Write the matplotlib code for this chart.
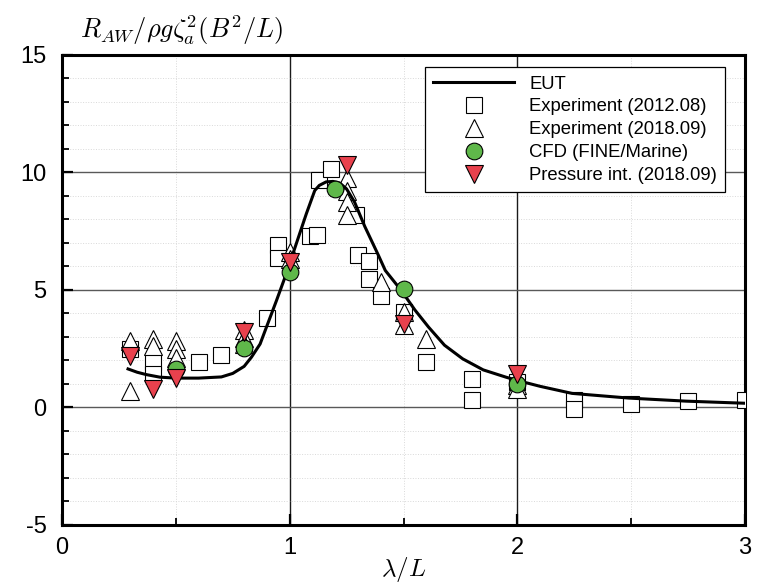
import numpy as np
import matplotlib
matplotlib.use("Agg")
import matplotlib.pyplot as plt
from matplotlib.ticker import MultipleLocator

plt.rcParams['font.family'] = ['Liberation Sans', 'DejaVu Sans']
plt.rcParams['mathtext.fontset'] = 'cm'
plt.rcParams['axes.unicode_minus'] = False

# EUT (theory curve)
eut_x = [0.29, 0.33, 0.37, 0.43, 0.50, 0.60, 0.70, 0.75, 0.80, 0.832, 0.87, 0.898,
         0.942, 0.985, 1.029, 1.073, 1.11, 1.13, 1.16, 1.19, 1.22, 1.25, 1.285,
         1.33, 1.39, 1.42, 1.49, 1.55, 1.61, 1.68, 1.76, 1.85, 1.95, 2.0, 2.1,
         2.24, 2.49, 2.74, 3.0]
eut_y = [1.64, 1.50, 1.40, 1.29, 1.25, 1.25, 1.30, 1.45, 1.75, 2.14, 2.70, 3.42,
         4.55, 5.69, 6.97, 8.24, 9.23, 9.45, 9.60, 9.62, 9.55, 9.30, 8.74,
         7.70, 6.47, 5.83, 4.98, 4.15, 3.42, 2.65, 2.07, 1.60, 1.29, 1.15, 0.90,
         0.60, 0.40, 0.27, 0.18]

# Experiment (2012.08)
exp12_x = [0.3, 0.4, 0.4, 0.6, 0.7, 0.9, 0.95, 0.95, 1.09, 1.12, 1.13, 1.18,
           1.29, 1.3, 1.35, 1.35, 1.4, 1.5, 1.6, 1.8, 1.8, 2.0, 2.25, 2.25,
           2.5, 2.75, 3.0]
exp12_y = [2.5, 1.93, 1.43, 1.95, 2.25, 3.8, 6.9, 6.35, 7.3, 7.35, 9.66, 10.15,
           8.17, 6.5, 6.25, 5.48, 4.75, 4.05, 1.95, 1.22, 0.3, 1.1, 0.33, -0.05,
           0.16, 0.27, 0.3]

# Experiment (2018.09)
exp18_x = [0.3, 0.3, 0.4, 0.4, 0.5, 0.5, 0.5, 0.8, 0.8, 0.8, 1.0, 1.0,
           1.25, 1.25, 1.25, 1.25, 1.4, 1.5, 1.5, 1.6, 2.0, 2.0]
exp18_y = [2.85, 0.7, 2.9, 2.6, 2.85, 2.5, 2.1, 3.3, 2.95, 2.7, 6.6, 6.3,
           9.75, 9.2, 8.75, 8.2, 5.35, 4.05, 3.5, 2.9, 0.95, 0.8]

# CFD (FINE/Marine)
cfd_x = [0.5, 0.8, 1.0, 1.2, 1.5, 2.0]
cfd_y = [1.64, 2.55, 5.75, 9.3, 5.05, 1.0]

# Pressure int. (2018.09)
pint_x = [0.3, 0.4, 0.5, 0.8, 1.0, 1.25, 1.5, 2.0]
pint_y = [2.2, 0.8, 1.25, 3.2, 6.2, 10.3, 3.55, 1.43]

fig = plt.figure(figsize=(7.59, 5.85), dpi=100)
ax = fig.add_axes([0.0817, 0.1026, 0.8999, 0.8034])

ax.plot(exp12_x, exp12_y, 's', ms=12, mfc='white', mec='black', mew=0.8,
        label='Experiment (2012.08)', zorder=3)
ax.plot(exp18_x, exp18_y, '^', ms=13, mfc='white', mec='black', mew=0.8,
        label='Experiment (2018.09)', zorder=3)
ax.plot(eut_x, eut_y, '-', color='black', lw=2.2, label='EUT', zorder=4)
ax.plot(cfd_x, cfd_y, 'o', ms=12, mfc='#5fb84a', mec='black', mew=0.8,
        label='CFD (FINE/Marine)', zorder=5)
ax.plot(pint_x, pint_y, 'v', ms=13, mfc='#e8414d', mec='black', mew=0.8,
        label='Pressure int. (2018.09)', zorder=6)

ax.set_xlim(0, 3)
ax.set_ylim(-5, 15)
ax.xaxis.set_major_locator(MultipleLocator(1))
ax.xaxis.set_minor_locator(MultipleLocator(0.5))
ax.yaxis.set_major_locator(MultipleLocator(5))
ax.yaxis.set_minor_locator(MultipleLocator(1))

ax.tick_params(which='both', direction='in', top=False, right=False)
ax.tick_params(which='major', length=8, width=1.6, labelsize=17, pad=9)
ax.tick_params(axis='y', which='major', pad=11)
ax.tick_params(which='minor', length=5, width=1.3)

for s in ax.spines.values():
    s.set_linewidth(2.2)

ax.grid(True, which='minor', linestyle=':', color='0.85', lw=0.7)
ax.grid(True, axis='x', which='major', color='0.1', lw=1.0)
ax.grid(True, axis='y', which='major', color='0.35', lw=1.0)
ax.set_axisbelow(True)

ax.text(0.027, 1.018, r'$R_{AW}/\rho g \zeta_a^2 (B^2/L)$', transform=ax.transAxes,
        fontsize=19, ha='left', va='bottom')
ax.set_xlabel(r'$\lambda/L$', fontsize=18, labelpad=-3)

handles, labels = ax.get_legend_handles_labels()
order = [2, 0, 1, 3, 4]
leg = ax.legend([handles[i] for i in order], [labels[i] for i in order],
                loc='upper right', bbox_to_anchor=(0.971, 0.974), borderaxespad=0,
                fontsize=13.3, frameon=True, fancybox=False, edgecolor='black',
                framealpha=1, handlelength=4.4, handletextpad=0.8,
                labelspacing=0.32, borderpad=0.45)
leg.get_frame().set_linewidth(0.9)

fig.savefig('out.png', dpi=100)
